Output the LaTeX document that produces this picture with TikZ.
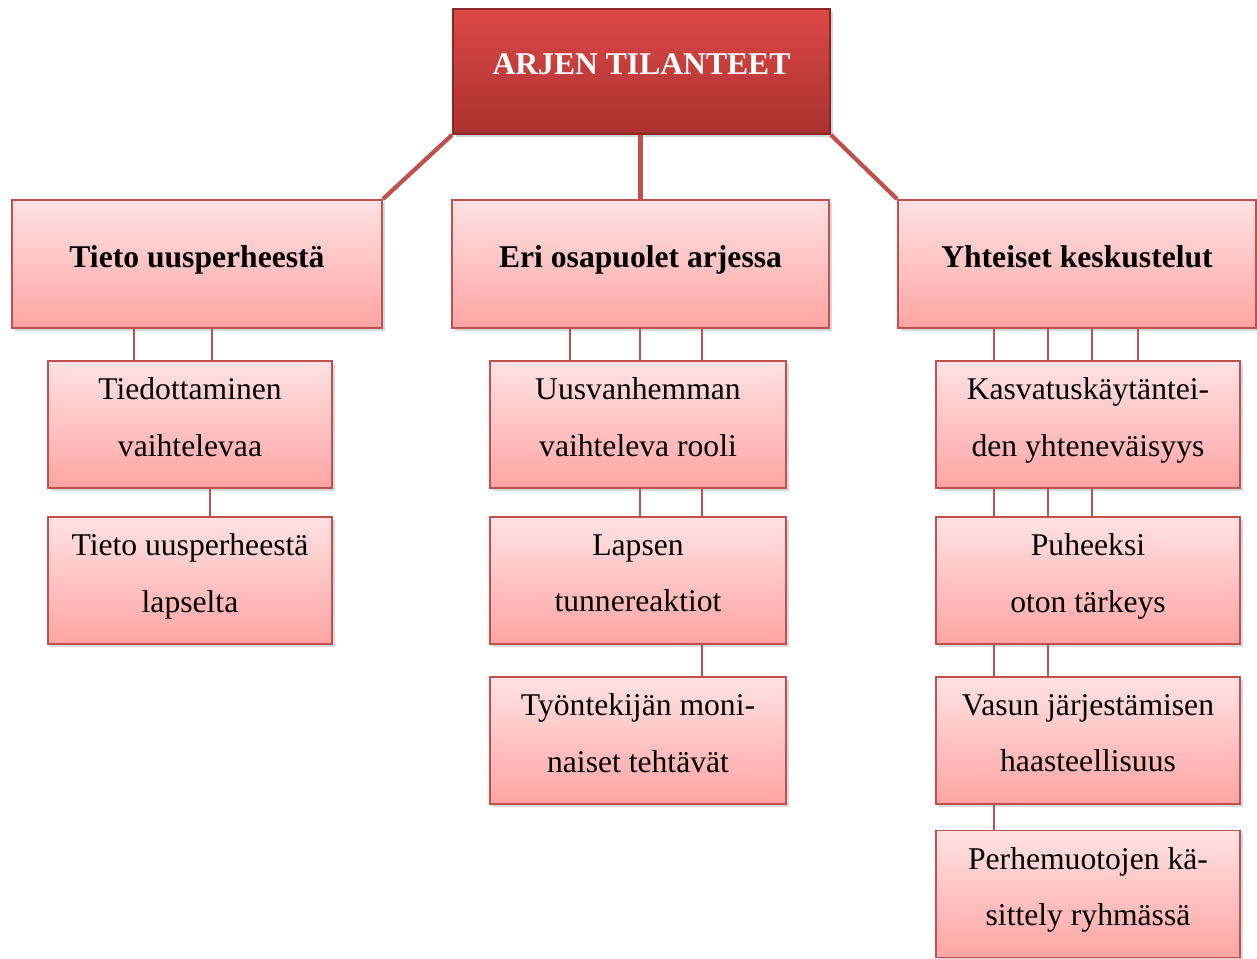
\documentclass[tikz,border=0pt]{standalone}
\usepackage{fontspec}
\setmainfont{Liberation Serif}
\usetikzlibrary{shadows}
\definecolor{edge}{RGB}{192,80,77}
\definecolor{pinktop}{RGB}{255,226,226}
\definecolor{pinkbot}{RGB}{255,164,164}
\definecolor{redtop}{RGB}{220,72,70}
\definecolor{redbot}{RGB}{170,50,48}
\newcommand{\lowstrut}{\rule[-0.3cm]{0pt}{0.3cm}}
\tikzset{
  mainbox/.style={draw=redbot!80!black, line width=1pt, top color=redtop, bottom color=redbot,
    minimum width=7.54cm, minimum height=2.5cm, inner sep=0pt, text=white,
    font=\fontsize{18}{32}\selectfont\bfseries, execute at end node=\lowstrut,
    drop shadow={shadow xshift=1.5pt, shadow yshift=-1.5pt, opacity=0.35}},
  headbox/.style={draw=edge, line width=1.1pt, top color=pinktop, bottom color=pinkbot,
    minimum height=2.56cm, inner sep=0pt, font=\fontsize{18}{32}\selectfont\bfseries,
    execute at end node=\lowstrut,
    drop shadow={shadow xshift=1.5pt, shadow yshift=-1.5pt, opacity=0.3}},
  subbox/.style={draw=edge, line width=1.1pt, top color=pinktop, bottom color=pinkbot,
    minimum height=2.54cm, inner sep=0pt, align=center, font=\fontsize{18}{32}\selectfont,
    execute at end node=\lowstrut,
    drop shadow={shadow xshift=1.5pt, shadow yshift=-1.5pt, opacity=0.3}},
  thick link/.style={draw=edge, line width=2.4pt},
  thin link/.style={draw=edge, line width=1.1pt}
}
\begin{document}
\begin{tikzpicture}
\useasboundingbox (0,0) rectangle (25.14,-19.16);

% top
\node[mainbox] (arki) at (12.83,-1.43) {ARJEN TILANTEET};

% main themes
\node[headbox, minimum width=7.40cm] (tieto) at (3.94,-5.28) {Tieto uusperheestä};
\node[headbox, minimum width=7.54cm] (osapuolet) at (12.81,-5.28) {Eri osapuolet arjessa};
\node[headbox, minimum width=7.16cm] (keskustelut) at (21.54,-5.28) {Yhteiset keskustelut};

\draw[thick link] (arki.south west) -- (tieto.north east);
\draw[thick link] (arki.south -| osapuolet.north) -- (osapuolet.north);
\draw[thick link] (arki.south east) -- (keskustelut.north west);

% left column
\node[subbox, minimum width=5.68cm] (tiedottaminen) at (3.80,-8.49) {Tiedottaminen\\vaihtelevaa};
\node[subbox, minimum width=5.68cm] (lapselta) at (3.80,-11.61) {Tieto uusperheestä\\lapselta};

% middle column
\node[subbox, minimum width=5.92cm] (rooli) at (12.76,-8.49) {Uusvanhemman\\vaihteleva rooli};
\node[subbox, minimum width=5.92cm] (tunteet) at (12.76,-11.61) {Lapsen\\tunnereaktiot};
\node[subbox, minimum width=5.92cm] (tehtavat) at (12.76,-14.81) {Työntekijän moni-\\naiset tehtävät};

% right column
\node[subbox, minimum width=6.08cm] (kasvatus) at (21.76,-8.49) {Kasvatuskäytäntei-\\den yhteneväisyys};
\node[subbox, minimum width=6.08cm] (puheeksi) at (21.76,-11.61) {Puheeksi\\oton tärkeys};
\node[subbox, minimum width=6.08cm] (vasu) at (21.76,-14.81) {Vasun järjestämisen\\haasteellisuus};
\node[subbox, minimum width=6.08cm] (perhemuodot) at (21.76,-17.88) {Perhemuotojen kä-\\sittely ryhmässä};

% links
\foreach \x in {2.68,4.24}
  \draw[thin link] (tieto.south -| \x,0) -- (tiedottaminen.north -| \x,0);
\draw[thin link] (tiedottaminen.south -| 4.20,0) -- (lapselta.north -| 4.20,0);

\foreach \x in {11.40,12.80,14.04}
  \draw[thin link] (osapuolet.south -| \x,0) -- (rooli.north -| \x,0);
\foreach \x in {12.80,14.04}
  \draw[thin link] (rooli.south -| \x,0) -- (tunteet.north -| \x,0);
\draw[thin link] (tunteet.south -| 14.04,0) -- (tehtavat.north -| 14.04,0);

\foreach \x in {19.88,20.96,21.84,22.76}
  \draw[thin link] (keskustelut.south -| \x,0) -- (kasvatus.north -| \x,0);
\foreach \x in {19.88,20.96,21.84}
  \draw[thin link] (kasvatus.south -| \x,0) -- (puheeksi.north -| \x,0);
\foreach \x in {19.88,20.96}
  \draw[thin link] (puheeksi.south -| \x,0) -- (vasu.north -| \x,0);
\draw[thin link] (vasu.south -| 19.88,0) -- (perhemuodot.north -| 19.88,0);
\end{tikzpicture}
\end{document}
